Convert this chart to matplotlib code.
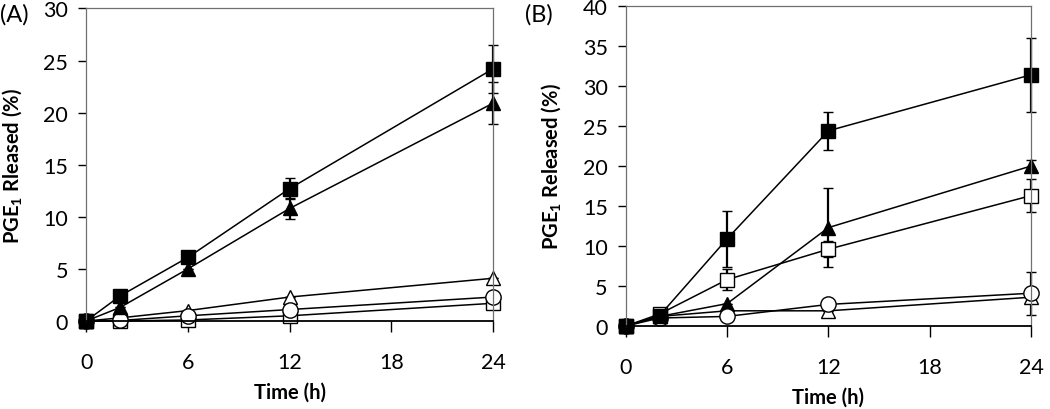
import matplotlib.pyplot as plt

plt.rcParams['font.family'] = ['Lato', 'DejaVu Sans']
plt.rcParams['mathtext.fontset'] = 'custom'
plt.rcParams['mathtext.rm'] = 'Lato'
plt.rcParams['mathtext.bf'] = 'Lato:bold'
plt.rcParams['mathtext.default'] = 'regular'

# time points (h)
time_h = [0, 2, 6, 12, 24]

# Panel A values (%)
a_filled_sq = [0, 2.4, 6.1, 12.7, 24.2]
a_filled_sq_err = [0, 0, 0, 1.0, 2.3]
a_filled_tri = [0, 1.3, 5.0, 10.8, 20.9]
a_filled_tri_err = [0, 0, 0, 1.0, 2.0]
a_open_tri = [0, 0.3, 1.0, 2.3, 4.1]
a_open_circ = [0, 0.05, 0.5, 1.1, 2.3]
a_open_sq = [0, 0.0, 0.1, 0.5, 1.7]

# Panel B values (%)
b_filled_sq = [0, 1.3, 10.9, 24.4, 31.4]
b_filled_sq_err = [0, 0, 3.5, 2.4, 4.6]
b_filled_tri = [0, 1.2, 2.8, 12.3, 20.0]
b_filled_tri_err = [0, 0, 0, 4.9, 0.7]
b_open_sq = [0, 1.5, 5.8, 9.6, 16.3]
b_open_sq_err = [0, 0, 1.3, 1.0, 2.1]
b_open_tri = [0, 1.2, 1.9, 1.9, 3.6]
b_open_circ = [0, 1.0, 1.2, 2.7, 4.1]
b_open_circ_err = [0, 0, 0, 0, 2.7]

fig = plt.figure(figsize=(10.5, 4.1), dpi=100)
ax_a = fig.add_axes([0.082, 0.2146, 0.3875, 0.7624])
ax_b = fig.add_axes([0.596, 0.2024, 0.386, 0.7806])


def draw(ax, y, err, marker, filled):
    ax.errorbar(time_h, y, yerr=err, color='black', lw=1.1,
                marker=marker, markersize=10 if marker != 'o' else 11,
                markerfacecolor='black' if filled else 'white',
                markeredgecolor='black', markeredgewidth=1.0,
                ecolor='black', elinewidth=1.6, capsize=3.5, capthick=1.2,
                clip_on=False)


zeros = [0, 0, 0, 0, 0]
draw(ax_a, a_open_sq, zeros, 's', False)
draw(ax_a, a_open_tri, zeros, '^', False)
draw(ax_a, a_open_circ, zeros, 'o', False)
draw(ax_a, a_filled_tri, a_filled_tri_err, '^', True)
draw(ax_a, a_filled_sq, a_filled_sq_err, 's', True)

draw(ax_b, b_open_tri, zeros, '^', False)
draw(ax_b, b_open_sq, b_open_sq_err, 's', False)
draw(ax_b, b_filled_tri, b_filled_tri_err, '^', True)
draw(ax_b, b_open_circ, b_open_circ_err, 'o', False)
draw(ax_b, b_filled_sq, b_filled_sq_err, 's', True)

for ax, ymax, ylab in [(ax_a, 30, r'PGE$_\mathbf{1}$ Rleased (%)'),
                       (ax_b, 40, r'PGE$_\mathbf{1}$ Released (%)')]:
    ax.set_xlim(0, 24)
    ax.set_ylim(0, ymax)
    ax.set_xticks([0, 6, 12, 18, 24])
    ax.set_yticks(range(0, ymax + 1, 5))
    ax.tick_params(axis='both', direction='out', labelsize=15.5, width=1.0)
    ax.tick_params(axis='x', length=8, pad=14)
    ax.tick_params(axis='y', length=6, pad=7)
    for side in ['left', 'right', 'top']:
        ax.spines[side].set_color('#707070')
        ax.spines[side].set_linewidth(0.9)
    ax.spines['bottom'].set_color('black')
    ax.spines['bottom'].set_linewidth(1.3)
    ax.set_xlabel('Time (h)', fontsize=14.5, fontweight='bold', labelpad=7)
    ax.set_ylabel(ylab, fontsize=14.5, fontweight='bold', labelpad=14)

fig.text(0.0, 0.963, '(A)', fontsize=17, va='center', ha='left')
fig.text(0.5, 0.963, '(B)', fontsize=17, va='center', ha='left')

fig.savefig('out.png', dpi=100)
